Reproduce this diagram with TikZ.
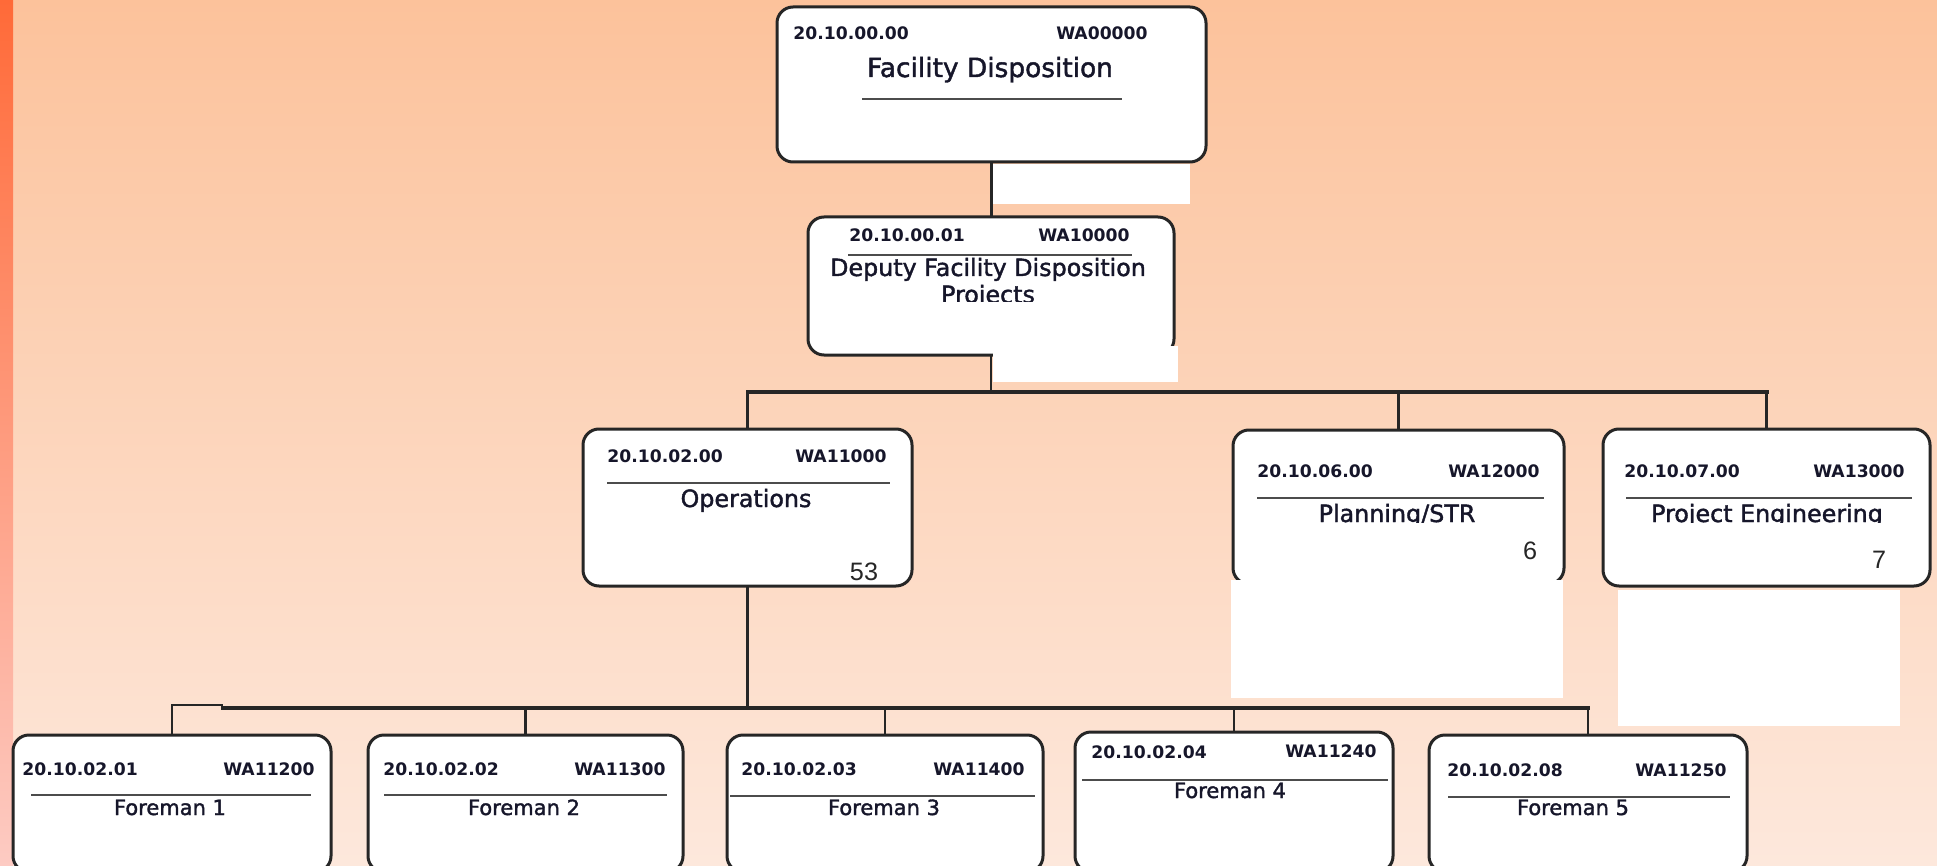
\documentclass[tikz,border=0pt]{standalone}
\usepackage{fontspec}
\setmainfont{DejaVu Sans}
\newfontfamily\numfont{Liberation Sans}
\newfontfamily\titlefont[FakeBold=1.6]{DejaVu Sans}
\usetikzlibrary{calc}
\definecolor{bgtop}{HTML}{FCC29B}
\definecolor{bgmid}{HTML}{FCD0B5}
\definecolor{bgbot}{HTML}{FDE8DC}
\definecolor{striptop}{HTML}{FF6A38}
\definecolor{stripmid}{HTML}{FF9474}
\definecolor{stripbot}{HTML}{FDCBC3}
\definecolor{codecol}{HTML}{16162A}
\begin{document}
\begin{tikzpicture}[x=0.5pt,y=-0.5pt,
  orgbox/.style={draw=black!85, line width=1.5pt, fill=white, rounded corners=8pt, inner sep=0pt, outer sep=0pt},
  codetxt/.style={font=\bfseries\fontsize{8.6}{10}\selectfont, text=codecol, inner sep=0pt, anchor=base west},
  watxt/.style={codetxt, anchor=base east},
  titletxt/.style={font=\titlefont\fontsize{11.9}{14}\selectfont, text=codecol, inner sep=0pt, anchor=base},
  bigtitle/.style={titletxt, font=\titlefont\fontsize{13.2}{15}\selectfont},
  ftitle/.style={font=\titlefont\fontsize{10.5}{12}\selectfont, text=codecol, inner sep=0pt, anchor=base},
  numtxt/.style={font=\numfont\fontsize{12.6}{14}\selectfont, text=black!85, inner sep=0pt, anchor=base},
  uline/.style={draw=black!70, line width=0.8pt},
  conn/.style={draw=black!85, line width=1.2pt},
  busline/.style={draw=black!85, line width=2pt, line cap=rect},
  whitepatch/.style={fill=white, draw=none}]

\useasboundingbox (0,0) rectangle (1937,866);
\shade[top color=bgtop, middle color=bgmid, bottom color=bgbot] (0,0) rectangle (1937,866);
\shade[top color=striptop, middle color=stripmid, bottom color=stripbot] (0,0) rectangle (13,866);

% ---------- boxes ----------
\node[orgbox, minimum width=214.5pt, minimum height=77.5pt] (top) at (991.5,84.5) {};
\node[orgbox, minimum width=183pt, minimum height=69pt] (dep) at (991,286) {};
\node[orgbox, minimum width=164.5pt, minimum height=78.5pt] (ops) at (747.5,507.5) {};
\node[orgbox, minimum width=165.5pt, minimum height=77pt] (plan) at (1398.5,507) {};
\node[orgbox, minimum width=163.5pt, minimum height=78.5pt] (proj) at (1766.5,507.5) {};
\node[orgbox, minimum width=159pt, minimum height=68.5pt] (f1) at (172,803.5) {};
\node[orgbox, minimum width=157.5pt, minimum height=68.5pt] (f2) at (525.5,803.5) {};
\node[orgbox, minimum width=158pt, minimum height=68.5pt] (f3) at (885,803.5) {};
\node[orgbox, minimum width=159pt, minimum height=70pt] (f4) at (1234,802) {};
\node[orgbox, minimum width=159pt, minimum height=68.5pt] (f5) at (1588,803.5) {};

% ---------- white patches ----------
\fill[whitepatch] (993,164) rectangle (1190,204);
\fill[whitepatch] (993,346) rectangle (1178,382);
\fill[whitepatch] (1231,580) rectangle (1563,698);
\fill[whitepatch] (1618,590) rectangle (1900,726);

% ---------- connectors ----------
\coordinate (bus1) at (991,392);
\coordinate (bus2) at (991,708);
\coordinate (bus2t) at (223,705);
\draw[conn] (top.south) -- (top.south |- dep.north);
\draw[conn] (dep.south) -- (dep.south |- bus1);
\draw[busline] (ops.north |- bus1) -- (proj.north |- bus1);
\draw[conn] (ops.north) -- (ops.north |- bus1);
\draw[conn] (plan.north) -- (plan.north |- bus1);
\draw[conn] (proj.north) -- (proj.north |- bus1);
\draw[conn] (ops.south) -- (ops.south |- bus2);
\draw[busline] (bus2t |- bus2) -- (f5.north |- bus2);
\draw[conn] (f1.north) |- (bus2t);
\draw[conn] (f2.north) -- (f2.north |- bus2);
\draw[conn] (f3.north) -- (f3.north |- bus2);
\draw[conn] (f4.north) -- (f4.north |- bus2);
\draw[conn] (f5.north) -- (f5.north |- bus2);

% ---------- top box ----------
\node[codetxt] (topc) at (793,40) {20.10.00.00};
\node[watxt] (topw) at (1148,40) {WA00000};
\node[bigtitle] (topt) at (990,77) {Facility Disposition};
\draw[uline] (862,99) -- (1122,99);

% ---------- deputy ----------
\node[codetxt] (depc) at (849,242) {20.10.00.01};
\node[watxt] (depw) at (1130,242) {WA10000};
\draw[uline] (848,255) -- (1132,255);
\node[titletxt] (dept) at (988,276) {Deputy Facility Disposition};
\begin{scope}
  \clip (850,281) rectangle (1130,301);
  \node[titletxt] (dept2) at (988,303) {Projects};
\end{scope}

% ---------- operations ----------
\node[codetxt] (opsc) at (607,462) {20.10.02.00};
\node[watxt] (opsw) at (887,462) {WA11000};
\draw[uline] (607,483) -- (890,483);
\node[titletxt] (opst) at (746,507) {Operations};
\node[numtxt] (opsn) at (864,580) {53};

% ---------- planning ----------
\node[codetxt] (planc) at (1257,477) {20.10.06.00};
\node[watxt] (planw) at (1540,477) {WA12000};
\draw[uline] (1257,498) -- (1544,498);
\begin{scope}
  \clip (1250,500) rectangle (1550,522);
  \node[titletxt] (plant) at (1397,522) {Planning/STR};
\end{scope}
\node[numtxt] (plann) at (1530,559) {6};

% ---------- project engineering ----------
\node[codetxt] (projc) at (1624,477) {20.10.07.00};
\node[watxt] (projw) at (1905,477) {WA13000};
\draw[uline] (1626,498) -- (1912,498);
\begin{scope}
  \clip (1620,500) rectangle (1915,522);
  \node[titletxt] (projt) at (1767,522) {Project Engineering};
\end{scope}
\node[numtxt] (projn) at (1879,568) {7};

% ---------- foremen ----------
\node[codetxt] (f1c) at (22,775) {20.10.02.01};
\node[watxt] (f1w) at (315,775) {WA11200};
\draw[uline] (31,795) -- (311,795);
\node[ftitle] (f1t) at (170,815) {Foreman 1};

\node[codetxt] (f2c) at (383,775) {20.10.02.02};
\node[watxt] (f2w) at (666,775) {WA11300};
\draw[uline] (384,795) -- (667,795);
\node[ftitle] (f2t) at (524,815) {Foreman 2};

\node[codetxt] (f3c) at (741,775) {20.10.02.03};
\node[watxt] (f3w) at (1025,775) {WA11400};
\draw[uline] (730,796) -- (1035,796);
\node[ftitle] (f3t) at (884,815) {Foreman 3};

\node[codetxt] (f4c) at (1091,758) {20.10.02.04};
\node[watxt] (f4w) at (1377,757) {WA11240};
\draw[uline] (1082,780) -- (1388,780);
\node[ftitle] (f4t) at (1230,798) {Foreman 4};

\node[codetxt] (f5c) at (1447,776) {20.10.02.08};
\node[watxt] (f5w) at (1727,776) {WA11250};
\draw[uline, line width=1.3pt] (1448,797) -- (1730,797);
\node[ftitle] (f5t) at (1573,815) {Foreman 5};
\end{tikzpicture}
\end{document}
